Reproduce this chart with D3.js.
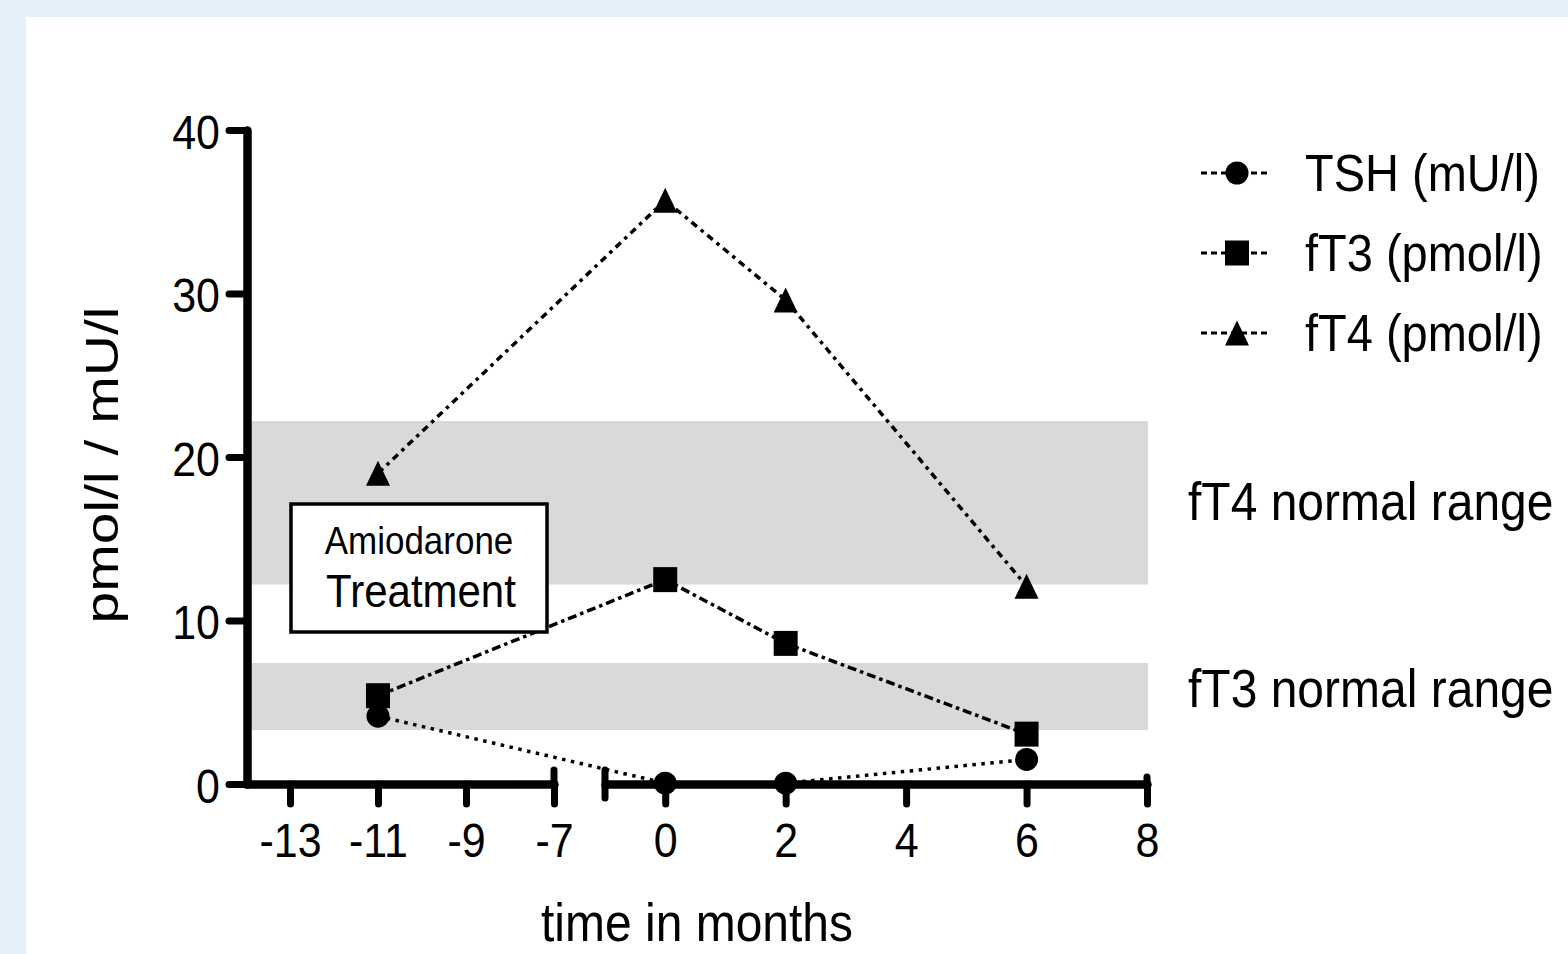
<!DOCTYPE html>
<html>
<head>
  <meta charset="utf-8">
  <title>Thyroid values over time</title>
  <style>
    body { margin: 0; background: #e4f1f8; }
    text { font-family: "Liberation Sans", Arial, sans-serif; fill: #000; }
  </style>
</head>
<body>
<script src="https://d3js.org/d3.v7.min.js"></script>
<script>
// data
var months = [-11, 0, 2, 6];
var tsh = [4.15, 0.05, 0.05, 1.5];
var ft3 = [5.4, 12.5, 8.6, 3.05];
var ft4 = [19.0, 35.7, 29.6, 12.1];
var ft4Range = [12.2, 22.2];
var ft3Range = [3.3, 7.4];
var leftTicks = [-13, -11, -9, -7];
var rightTicks = [0, 2, 4, 6, 8];
var yTicks = [0, 10, 20, 30, 40];
var seriesNames = ["TSH (mU/l)", "fT3 (pmol/l)", "fT4 (pmol/l)"];

var W = 1568, H = 954;
var svg = d3.select("body").append("svg").attr("width", W).attr("height", H);

svg.append("rect").attr("width", W).attr("height", H).attr("fill", "#e4f1f8");
svg.append("rect").attr("x", 26).attr("y", 17).attr("width", W - 26).attr("height", H - 17).attr("fill", "#fff");

// scales: broken x axis, two pieces
var y = d3.scaleLinear().domain([0, 40]).range([784, 130]);
var xL = d3.scaleLinear().domain([-14, -7]).range([246, 554]);
var xR = d3.scaleLinear().domain([-1, 8]).range([605, 1147]);
function xPos(v) { return v <= -7 ? xL(v) : xR(v); }

// text with the slight vertical stretch of the original
function label(x, yy, s, size, anchor) {
  return svg.append("text")
    .attr("transform", "translate(" + x + "," + yy + ") scale(1,1.12)")
    .attr("text-anchor", anchor || "start")
    .attr("font-size", size)
    .text(s);
}

// normal range bands
[ft4Range, ft3Range].forEach(function(r) {
  svg.append("rect")
    .attr("x", 249).attr("width", xR(8) + 1 - 249)
    .attr("y", y(r[1])).attr("height", y(r[0]) - y(r[1]))
    .attr("fill", "#d9d9d9");
});

function styleAxis(g) {
  g.select(".domain").attr("stroke", "#000").attr("stroke-width", 8.5)
    .attr("stroke-linecap", "round").attr("stroke-linejoin", "round");
  g.selectAll(".tick line").attr("stroke", "#000").attr("stroke-width", 7).attr("stroke-linecap", "round");
  g.selectAll(".tick text").attr("font-size", 43).attr("font-family", "Liberation Sans, Arial, sans-serif");
}

// y axis
var gy = svg.append("g").attr("transform", "translate(247,0)")
  .call(d3.axisLeft(y).tickValues(yTicks).tickSize(18).tickSizeOuter(0));
styleAxis(gy);
gy.selectAll(".tick text").attr("x", 0).attr("dy", 0)
  .attr("transform", "translate(-27,18) scale(1,1.12)");

// x axis, left piece
var gxl = svg.append("g").attr("transform", "translate(0,784)")
  .call(d3.axisBottom(xL).tickValues(leftTicks).tickSize(20).tickSizeOuter(0).tickFormat(d3.format("d")));
// x axis, right piece
var gxr = svg.append("g").attr("transform", "translate(0,784)")
  .call(d3.axisBottom(xR).tickValues(rightTicks).tickSize(20).tickSizeOuter(0).tickFormat(d3.format("d")));
[gxl, gxr].forEach(function(g) {
  styleAxis(g);
  g.selectAll(".tick text").attr("y", 0).attr("dy", 0)
    .attr("transform", "translate(0,73) scale(1,1.12)")
    .text(function(d) { return d < 0 ? "-" + Math.abs(d) : d; });
});

// end caps and break marks
var caps = [[xL(-7), -14, 0], [xR(-1), -14, 14], [xR(8), -7, 0]];
caps.forEach(function(c) {
  svg.append("line").attr("x1", c[0]).attr("x2", c[0])
    .attr("y1", 784 + c[1]).attr("y2", 784 + c[2])
    .attr("stroke", "#000").attr("stroke-width", 7).attr("stroke-linecap", "round");
});

// series
var dashes = ["3.5,5.5", "9,4,3.5,4", "7,5,3.5,5"];
var shapes = [
  d3.symbol().type(d3.symbolCircle).size(Math.PI * 11.5 * 11.5)(),
  "M-12,-12.5H12V12.5H-12Z",
  "M0,-12.5L12,12.5L-12,12.5Z"
];
var series = [tsh, ft3, ft4];

var line = d3.line()
  .x(function(d, i) { return xPos(months[i]); })
  .y(function(d) { return y(d); });

series.forEach(function(vals, k) {
  svg.append("path").attr("d", line(vals)).attr("fill", "none")
    .attr("stroke", "#000").attr("stroke-width", 3.5).attr("stroke-dasharray", dashes[k]);
});
series.forEach(function(vals, k) {
  svg.selectAll(null).data(vals).enter().append("path")
    .attr("d", shapes[k])
    .attr("transform", function(d, i) { return "translate(" + xPos(months[i]) + "," + y(d) + ")"; })
    .attr("fill", "#000");
});

// treatment box
svg.append("rect").attr("x", 291).attr("y", 504).attr("width", 256).attr("height", 128)
  .attr("fill", "#fff").attr("stroke", "#000").attr("stroke-width", 3.5);
label(419, 554, "Amiodarone", 35, "middle");
label(421, 607, "Treatment", 42, "middle");

// legend
var legendY = [173, 253, 333];
seriesNames.forEach(function(name, k) {
  svg.append("line").attr("x1", 1201).attr("x2", 1271)
    .attr("y1", legendY[k]).attr("y2", legendY[k])
    .attr("stroke", "#000").attr("stroke-width", 3).attr("stroke-dasharray", "6,4");
  svg.append("path").attr("d", shapes[k])
    .attr("transform", "translate(1237," + legendY[k] + ")").attr("fill", "#000");
  label(1305, legendY[k] + 18, name, 47);
});

label(1188, 520, "fT4 normal range", 48);
label(1188, 707, "fT3 normal range", 48);

// axis titles
label(697, 941, "time in months", 48, "middle");
svg.append("text")
  .attr("transform", "translate(118,465) rotate(-90) scale(1.24,1)")
  .attr("text-anchor", "middle").attr("font-size", 46)
  .text("pmol/l / mU/l");
</script>
</body>
</html>
